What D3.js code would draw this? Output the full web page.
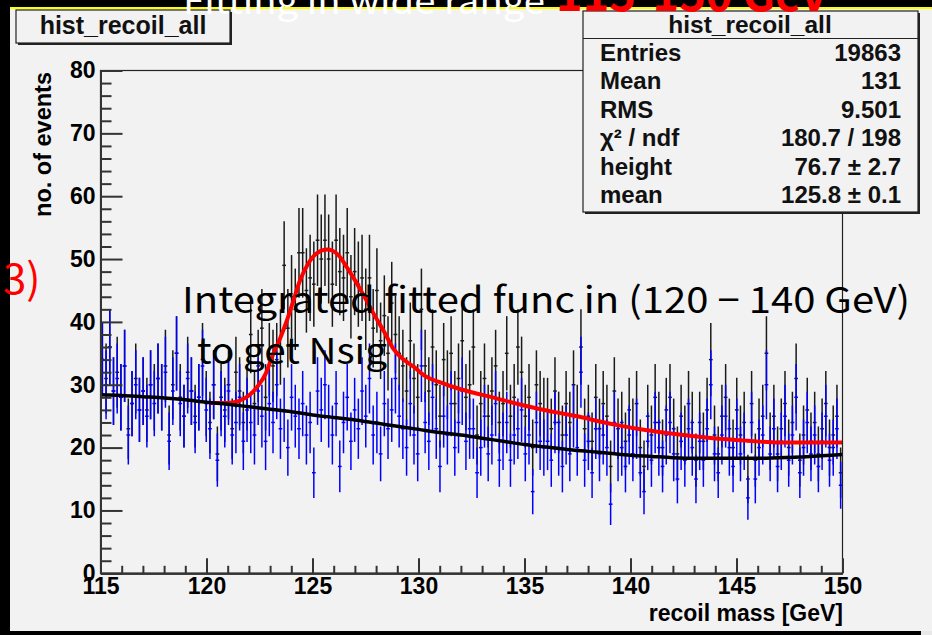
<!DOCTYPE html>
<html><head><meta charset="utf-8">
<script src="https://cdn.jsdelivr.net/npm/d3@7"></script>
<style>body{margin:0;background:#000;}svg{display:block}</style>
</head><body>
<svg id="c" width="932" height="635"></svg>
<script>
// ---------------- data ----------------
const xMin = 115, xMax = 150, nBins = 200;
const blueCounts = [
 34,30,36,29,31,28,33,22,27,30,26,29,25,30,27,31,28,32,21,29,
 35,27,25,31,29,24,28,33,26,23,30,18,27,25,29,22,24,28,21,26,
 24,22,29,25,21,27,24,30,23,26,20,28,25,23,27,22,24,16,29,26,
 30,25,22,27,17,24,28,21,26,23,29,25,31,22,24,19,27,23,26,31,
 25,23,20,27,22,19,33,24,21,28,23,17,25,22,27,20,24,29,21,23,
 23,16,20,25,19,22,27,18,21,24,18,22,23,26,19,22,13,24,21,20,
 21,18,24,20,17,22,19,25,20,32,18,21,16,23,19,22,20,11,24,19,
 20,17,22,19,23,16,13,21,18,24,20,17,22,24,19,15,21,18,23,20,
 15,21,18,23,30,19,16,22,25,20,17,23,19,21,12,24,15,20,22,30,
 19,23,17,21,25,18,22,28,16,20,24,19,22,17,21,25,18,20,23,14];
const blackCounts = [
 34,31,36,29,32,28,33,23,27,31,26,29,26,30,28,31,28,33,22,30,
 35,28,25,32,29,25,28,34,27,24,30,19,28,26,30,23,32,29,24,28,
 38,27,33,39,28,34,33,34,36,49,39,44,42,51,51,45,47,46,53,50,
 53,50,46,53,48,47,51,44,48,46,47,42,47,39,45,37,41,35,43,38,
 35,33,29,37,31,28,42,33,29,36,30,25,34,30,35,27,31,37,28,30,
 36,22,27,31,25,29,33,24,27,35,25,28,36,32,25,28,20,30,27,26,
 26,23,29,24,22,27,24,30,25,36,23,25,21,28,23,27,25,17,29,23,
 24,21,26,23,27,20,17,25,22,28,24,20,26,28,23,19,25,22,27,24,
 18,24,21,26,34,22,19,25,28,23,20,26,22,24,15,27,18,23,25,35,
 21,25,19,23,27,20,24,31,18,22,26,21,24,19,23,27,20,22,25,16];
const bkgFitX = [115,116,117,118,119,120,121,122,123,124,125,126,127,128,129,130,131,132,133,134,135,136,137,138,139,140,141,142,143,144,145,146,147,148,149,150];
const bkgFitY = [28.4,28.3,28.1,27.9,27.6,27.2,26.9,26.5,26.1,25.7,25.2,24.8,24.4,23.9,23.4,22.9,22.4,22.0,21.5,21.0,20.5,20.1,19.7,19.4,19.1,18.8,18.6,18.4,18.3,18.3,18.3,18.3,18.4,18.5,18.7,18.9];
const sigFitX = [120.2,121.0,121.5,122.0,122.4,122.8,123.1,123.5,123.8,124.1,124.4,124.8,125.2,125.7,126.2,126.6,126.9,127.4,127.9,128.4,128.8,129.3,129.8,130.3,131.0,131.5,132.5,133.5,134.5,135.5,136.5,137.6,138.5,139.5,140.7,142.0,143.9,145.5,147.0,148.5,150.0];
const sigFitY = [27.1,27.1,27.4,28.3,29.7,31.8,34.5,37.6,40.3,43.4,46.5,49.3,50.9,51.5,50.7,48.8,47.2,44.3,41.2,38.3,35.8,34.0,32.8,31.4,30.4,29.8,28.8,28.0,27.1,26.3,25.6,24.9,24.2,23.5,22.8,22.2,21.5,21.1,20.8,20.8,20.8];
const xMajorTicks = [115,120,125,130,135,140,145,150];
const yMajorTicks = [0,10,20,30,40,50,60,70,80];
const statsLabels = ["Entries","Mean","RMS","χ² / ndf","height","mean"];
const statsValues = ["19863","131","9.501","180.7 / 198","76.7 ± 2.7","125.8 ± 0.1"];
const histName = "hist_recoil_all";
const xTitle = "recoil mass [GeV]";
const yTitle = "no. of events";

// ---------------- drawing ----------------
const svg = d3.select("#c");
const F = "'Liberation Sans', Arial, Helvetica, sans-serif";
const J = "'Noto Sans CJK JP', 'Noto Sans', sans-serif";

svg.append("rect").attr("width",932).attr("height",635).attr("fill","#000");
svg.append("rect").attr("x",10).attr("y",9).attr("width",922).attr("height",622).attr("fill","#f2f2f2");
svg.append("rect").attr("x",10).attr("y",7).attr("width",922).attr("height",2).attr("fill","#ffff00");
svg.append("rect").attr("x",921).attr("y",631).attr("width",11).attr("height",4).attr("fill","#e8e8e8");

const fx0 = 100.5, fx1 = 842.5, fy0 = 70.5, fy1 = 573.3;
const x = d3.scaleLinear().domain([xMin,xMax]).range([fx0,fx1]);
const y = d3.scaleLinear().domain([0,80]).range([fy1,fy0]);

svg.append("clipPath").attr("id","fr").append("rect")
  .attr("x",fx0).attr("y",fy0).attr("width",fx1-fx0).attr("height",fy1-fy0);
const plot = svg.append("g").attr("clip-path","url(#fr)");

const bw = (xMax-xMin)/nBins;
function drawHist(counts, color){
  const g = plot.append("g").attr("stroke",color).attr("stroke-width",1.5).attr("fill","none");
  counts.forEach((v,i)=>{
    const lo = xMin+i*bw, hi = lo+bw, c = lo+bw/2, e = Math.sqrt(v);
    g.append("line").attr("x1",x(c)).attr("x2",x(c)).attr("y1",y(v-e)).attr("y2",y(v+e));
    g.append("line").attr("x1",x(lo)).attr("x2",x(hi)).attr("y1",y(v)).attr("y2",y(v));
  });
}
drawHist(blackCounts,"#1a1a1a");
drawHist(blueCounts,"#0000ff");

const line = d3.line().x(d=>x(d[0])).y(d=>y(d[1])).curve(d3.curveMonotoneX);
plot.append("path").datum(sigFitX.map((v,i)=>[v,sigFitY[i]])).attr("d",line)
  .attr("fill","none").attr("stroke","#ff0000").attr("stroke-width",4);
plot.append("path").datum(bkgFitX.map((v,i)=>[v,bkgFitY[i]])).attr("d",line)
  .attr("fill","none").attr("stroke","#000").attr("stroke-width",3.5);

// frame top/right
svg.append("rect").attr("x",fx0).attr("y",fy0).attr("width",fx1-fx0).attr("height",fy1-fy0)
  .attr("fill","none").attr("stroke","#222").attr("stroke-width",1.2);

// axes
const axCol = "#333";
const yMinor = d3.range(0,81,2).filter(v=>v%10!==0);
const xMinor = d3.range(115,151,1).filter(v=>v%5!==0);
function styleAxis(g){
  g.selectAll("path").attr("stroke",axCol).attr("stroke-width",2);
  g.selectAll("line").attr("stroke",axCol).attr("stroke-width",2);
  g.selectAll("text").attr("fill","#000").attr("font-family",F).attr("font-weight","bold").attr("font-size",23);
}
svg.append("g").attr("transform",`translate(${fx0},0)`)
  .call(d3.axisLeft(y).tickValues(yMinor).tickSize(-11).tickSizeOuter(0).tickFormat(""))
  .call(styleAxis);
svg.append("g").attr("transform",`translate(${fx0},0)`)
  .call(d3.axisLeft(y).tickValues(yMajorTicks).tickSize(-22).tickSizeOuter(0).tickPadding(5))
  .call(styleAxis);
svg.append("g").attr("transform",`translate(0,${fy1})`)
  .call(d3.axisBottom(x).tickValues(xMinor).tickSize(-7.5).tickSizeOuter(0).tickFormat(""))
  .call(styleAxis);
svg.append("g").attr("transform",`translate(0,${fy1})`)
  .call(d3.axisBottom(x).tickValues(xMajorTicks).tickSize(-15).tickSizeOuter(0).tickPadding(4))
  .call(styleAxis);

// axis titles
svg.append("text").text(xTitle).attr("x",843).attr("y",621).attr("text-anchor","end")
  .attr("font-family",F).attr("font-weight","bold").attr("font-size",23).attr("fill","#000");
svg.append("text").text(yTitle).attr("transform","translate(51,72) rotate(-90)").attr("text-anchor","end")
  .attr("font-family",F).attr("font-weight","bold").attr("font-size",23.5).attr("fill","#000");

// title box
function box(x0,y0,w,h){
  svg.append("rect").attr("x",x0+2).attr("y",y0+2).attr("width",w).attr("height",h).attr("fill","#222");
  svg.append("rect").attr("x",x0).attr("y",y0).attr("width",w).attr("height",h)
    .attr("fill","#f2f2f2").attr("stroke","#222").attr("stroke-width",1.2);
}
box(16,10,214,33);
svg.append("text").text(histName).attr("x",123).attr("y",34).attr("text-anchor","middle")
  .attr("font-family",F).attr("font-weight","bold").attr("font-size",25).attr("fill","#111");

// stats box
box(583,11,335,201);
svg.append("line").attr("x1",583).attr("x2",918).attr("y1",38.5).attr("y2",38.5).attr("stroke","#222").attr("stroke-width",1.2);
svg.append("text").text(histName).attr("x",750).attr("y",33).attr("text-anchor","middle")
  .attr("font-family",F).attr("font-weight","bold").attr("font-size",24.5).attr("fill","#111");
statsLabels.forEach((s,i)=>{
  const by = 61 + i*28.4;
  svg.append("text").text(s).attr("x",600).attr("y",by)
    .attr("font-family",F).attr("font-weight","bold").attr("font-size",24).attr("fill","#111");
  svg.append("text").text(statsValues[i]).attr("x",901).attr("y",by).attr("text-anchor","end")
    .attr("font-family",F).attr("font-weight","bold").attr("font-size",24).attr("fill","#111");
});

// slide overlay texts
svg.append("text").text("Integrated fitted func in (120 − 140 GeV)").attr("x",182).attr("y",313)
  .attr("font-family",J).attr("font-size",36).attr("fill","#000")
  .attr("textLength",728).attr("lengthAdjust","spacingAndGlyphs");
svg.append("text").text("to get Nsig").attr("x",197).attr("y",364)
  .attr("font-family",J).attr("font-size",36).attr("fill","#000")
  .attr("textLength",190).attr("lengthAdjust","spacingAndGlyphs");
svg.append("text").text("3)").attr("x",3).attr("y",294)
  .attr("font-family",J).attr("font-size",42).attr("fill","#ff0000");
svg.append("text").text("Fitting in wide range").attr("x",183).attr("y",14)
  .attr("font-family",J).attr("font-size",36).attr("fill","#ffffff")
  .attr("textLength",362).attr("lengthAdjust","spacingAndGlyphs");
svg.append("text").text("115-150 GeV").attr("x",556).attr("y",11)
  .attr("font-family",J).attr("font-weight","bold").attr("font-size",46).attr("fill","#ff0000")
  .attr("textLength",272).attr("lengthAdjust","spacingAndGlyphs");
</script>
</body></html>
